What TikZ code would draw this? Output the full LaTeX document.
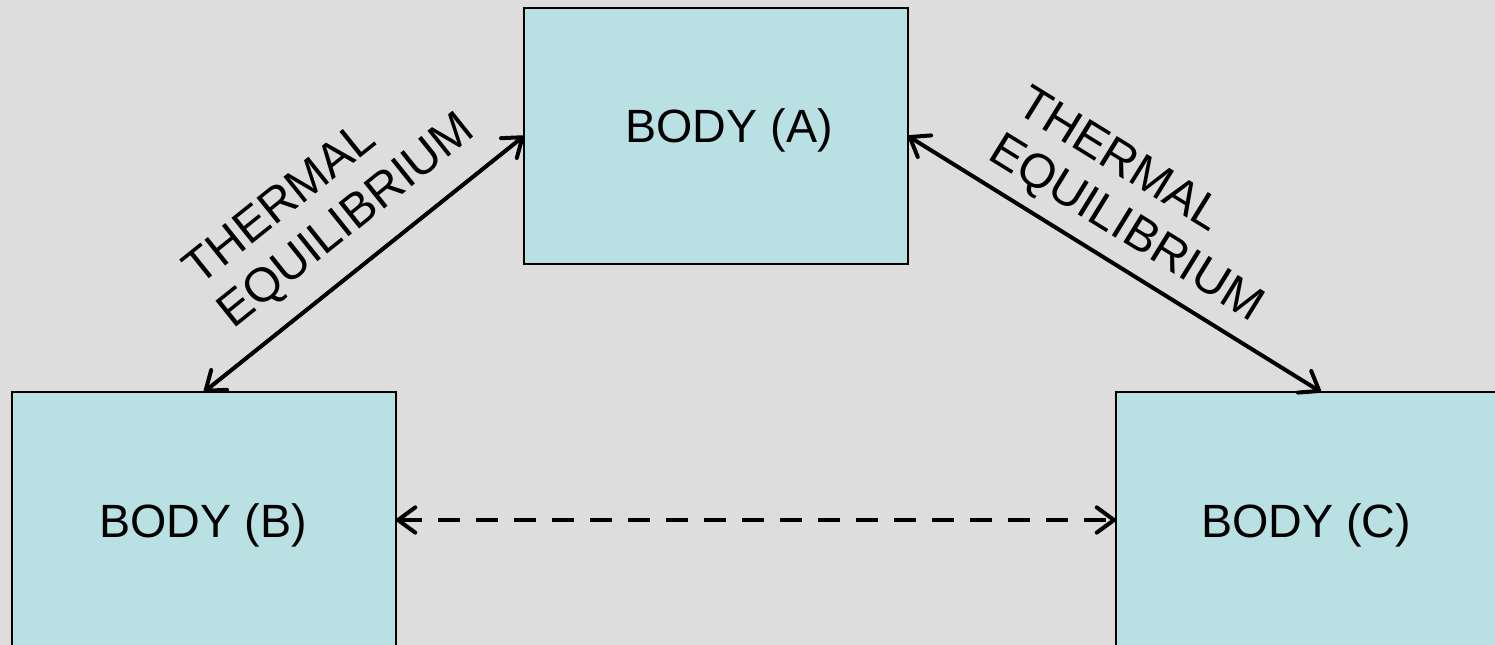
\documentclass[tikz,border=0pt]{standalone}
\usepackage{fontspec}
\setmainfont{Liberation Sans}
\usetikzlibrary{arrows.meta,calc}
\definecolor{bgcol}{HTML}{DDDDDD}
\definecolor{boxcol}{HTML}{B9E0E3}
\tikzset{
  body/.style={draw=black, fill=boxcol, line width=1.6pt, inner sep=0pt, outer sep=0pt,
               minimum width=288pt, minimum height=192pt},
  bodytext/.style={anchor=base, inner sep=0pt, font=\fontsize{35pt}{42pt}\selectfont},
  eqlabel/.style={anchor=south west, inner sep=0pt, align=left,
                  font=\fontsize{36pt}{41pt}\selectfont},
  link/.style={line width=3pt, {Straight Barb[length=13pt,width=19pt,round]}-{Straight Barb[length=13pt,width=19pt,round]}},
  weaklink/.style={link, dash pattern=on 16.5pt off 12pt}
}
\begin{document}
\begin{tikzpicture}[x=0.75pt, y=-0.75pt]
  \useasboundingbox[fill=bgcol] (0,0) rectangle (1495,645);
  \clip (0,0) rectangle (1495,645);

  % the three bodies
  \node[body] (A) at (716,136) {};
  \node[body] (B) at (204,520) {};
  \node[body] (C) at (1308,520) {};

  \node[bodytext] (tA) at (729,143) {BODY (A)};
  \node[bodytext] (tB) at (203,537) {BODY (B)};
  \node[bodytext] (tC) at (1306,537) {BODY (C)};

  % equilibrium links
  \coordinate (Cin) at ($(C.north)+(13,0)$);
  \draw[link] (A.west) -- (B.north);
  \draw[link] (A.east) -- (Cin);
  \draw[weaklink] (B.east) -- (C.west);

  % labels along the links
  \node[eqlabel, rotate=38.7] (lAB) at (239,337) {THERMAL\\EQUILIBRIUM};
  \node[eqlabel, rotate=-31.7] (lAC) at (981,166) {THERMAL\\EQUILIBRIUM};
\end{tikzpicture}
\end{document}
